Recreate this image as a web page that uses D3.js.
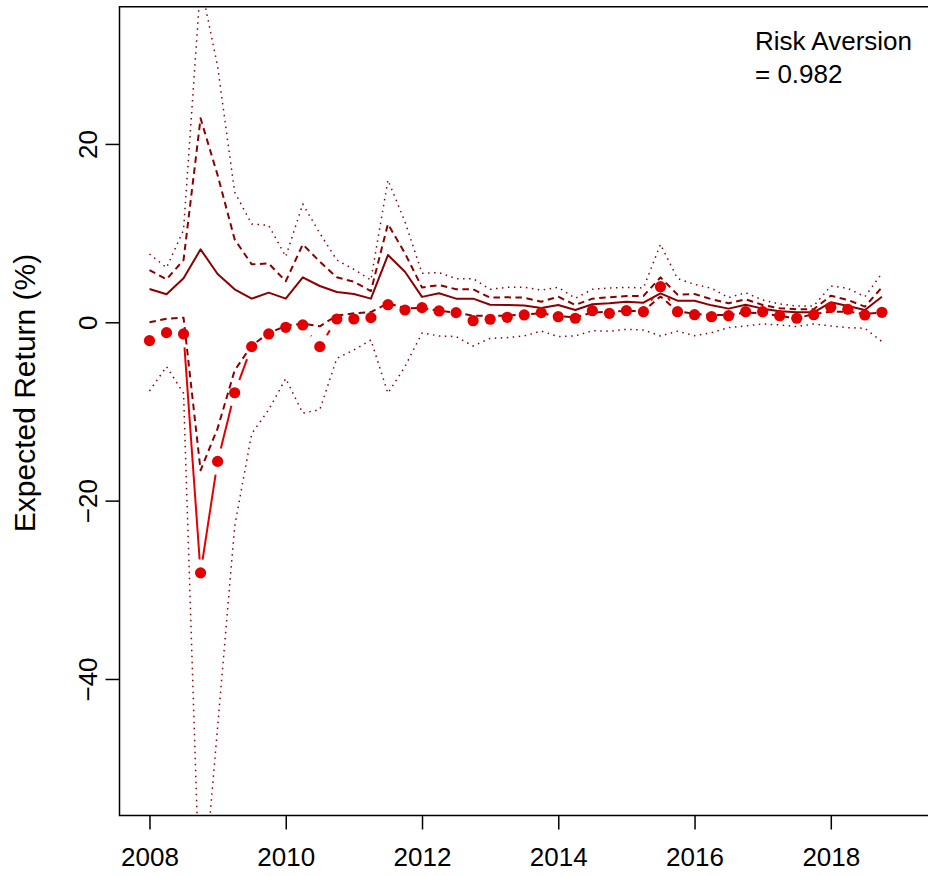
<!DOCTYPE html>
<html>
<head>
<meta charset="utf-8">
<script src="https://cdn.jsdelivr.net/npm/d3@7"></script>
<style>
  html, body { margin: 0; padding: 0; background: #fff; }
  svg text { font-family: "Liberation Sans", Arial, sans-serif; fill: #000; }
</style>
</head>
<body>
<svg id="chart" width="928" height="876"></svg>
<script>
// ---- data (quarterly, 2008 Q1 .. 2018 Q4) ----
const startYear = 2008;
const nQuarters = 44;
const quarters = d3.range(nQuarters).map(i => startYear + i / 4);

const centerLine = [3.73, 3.14, 4.93, 8.18, 5.41, 3.70, 2.65, 3.32, 2.65, 5.04, 4.07, 3.40, 3.17, 2.65, 7.54, 5.67,
  2.85, 3.25, 2.65, 2.65, 1.97, 1.94, 1.87, 1.60, 1.94, 1.38, 2.02, 2.13, 2.31, 2.20, 3.25, 2.42,
  2.42, 1.90, 1.53, 1.97, 1.53, 1.23, 1.12, 1.12, 2.24, 1.83, 1.38, 2.87];

const upperDashed = [5.86, 4.82, 6.98, 22.87, 16.5, 9.3, 6.5, 6.6, 4.6, 8.74, 6.8, 5.04, 4.55, 3.5, 11.02, 7.74,
  3.9, 4.18, 3.7, 3.7, 2.76, 2.8, 2.76, 2.31, 2.87, 1.94, 2.65, 2.8, 2.95, 2.95, 5.04, 3.1,
  3.17, 2.58, 2.13, 2.58, 1.94, 1.57, 1.46, 1.46, 2.98, 2.5, 1.75, 3.92];

const lowerDashed = [0.0, 0.4, 0.52, -16.6, -11.9, -5.4, -2.6, -1.23, -0.4, -0.15, -0.45, 0.75, 1.0, 1.15, 2.13, 1.57,
  1.6, 1.3, 1.08, 0.74, 0.74, 0.74, 0.9, 1.0, 0.7, 0.56, 1.08, 1.19, 1.27, 1.27, 2.9, 1.25,
  0.93, 0.82, 0.82, 1.08, 1.0, 0.7, 0.45, 0.93, 1.19, 1.19, 0.93, 1.08];

const upperDotted = [7.66, 6.12, 10.35, 38.0, 28.7, 14.6, 11.02, 10.87, 7.36, 13.26, 9.98, 6.98, 5.94, 4.74, 15.95, 11.28,
  5.5, 5.56, 4.89, 4.89, 3.7, 3.92, 3.92, 3.62, 3.92, 2.69, 3.7, 3.85, 3.92, 3.85, 8.74, 4.9,
  4.26, 3.81, 2.76, 3.32, 2.5, 2.05, 1.83, 1.83, 4.07, 3.81, 2.87, 5.49];

const lowerDotted = [-7.7, -4.97, -7.96, -67.7, -45.4, -22.9, -12.5, -9.8, -6.3, -10.2, -9.8, -4.04, -3.1, -1.98, -7.96, -4.97,
  -1.2, -1.53, -1.6, -2.66, -1.8, -1.72, -1.53, -0.98, -1.6, -1.53, -0.94, -1.0, -0.79, -0.86, -1.53, -1.0,
  -1.5, -1.16, -0.6, -0.41, -0.19, -0.3, -0.49, -0.19, -0.41, -0.6, -0.67, -2.17];

const observed = [-2.06, -1.16, -1.31, -28.1, -15.6, -7.9, -2.73, -1.31, -0.56, -0.3, -2.73, 0.37, 0.37, 0.52, 1.97, 1.38,
  1.64, 1.27, 1.08, 0.18, 0.34, 0.56, 0.82, 1.08, 0.63, 0.45, 1.3, 1.0, 1.3, 1.19, 3.99, 1.19,
  0.85, 0.63, 0.74, 1.19, 1.19, 0.74, 0.45, 0.85, 1.68, 1.46, 0.82, 1.12];

const xTicks = [2008, 2010, 2012, 2014, 2016, 2018];
const yTicks = [-40, -20, 0, 20];
const yLabel = "Expected Return (%)";
const legendLines = ["Risk Aversion", "= 0.982"];

// ---- layout ----
const plot = { left: 119.5, right: 933, top: 6.7, bottom: 815.5 };
const xDomain = [2007.56, 2019.5];
const yDomain = [-55.31, 35.39];

const x = d3.scaleLinear().domain(xDomain).range([plot.left, plot.right]);
const y = d3.scaleLinear().domain(yDomain).range([plot.bottom, plot.top]);

const svg = d3.select("#chart");
const darkRed = "#8B0000";
const red = "#E30000";
const fontSize = 26;

svg.append("defs").append("clipPath").attr("id", "plotClip")
  .append("rect")
  .attr("x", plot.left).attr("y", plot.top)
  .attr("width", plot.right - plot.left).attr("height", plot.bottom - plot.top);

const g = svg.append("g").attr("clip-path", "url(#plotClip)");

const line = d3.line().x((d, i) => x(quarters[i])).y(d => y(d));

function drawSeries(values, width, dash) {
  g.append("path")
    .datum(values)
    .attr("d", line)
    .attr("fill", "none")
    .attr("stroke", darkRed)
    .attr("stroke-width", width)
    .attr("stroke-linejoin", "round")
    .attr("stroke-dasharray", dash);
}

drawSeries(upperDotted, 1.5, "1.5,4.5");
drawSeries(lowerDotted, 1.5, "1.5,4.5");
drawSeries(upperDashed, 2, "6.5,4.5");
drawSeries(lowerDashed, 2, "6.5,4.5");
drawSeries(centerLine, 2, null);

// observed: R type = "b" (points, with lines broken around each point)
const gap = 13.4;
const pts = observed.map((v, i) => [x(quarters[i]), y(v)]);
const segs = [];
for (let i = 0; i < pts.length - 1; i++) {
  const [x0, y0] = pts[i], [x1, y1] = pts[i + 1];
  const dx = x1 - x0, dy = y1 - y0, L = Math.hypot(dx, dy);
  if (L > 2 * gap) {
    const ux = dx / L, uy = dy / L;
    segs.push([x0 + ux * gap, y0 + uy * gap, x1 - ux * gap, y1 - uy * gap]);
  }
}
g.selectAll("line.obs").data(segs).enter().append("line")
  .attr("class", "obs")
  .attr("x1", d => d[0]).attr("y1", d => d[1])
  .attr("x2", d => d[2]).attr("y2", d => d[3])
  .attr("stroke", red).attr("stroke-width", 2);

g.selectAll("circle.obs").data(observed).enter().append("circle")
  .attr("class", "obs")
  .attr("cx", (d, i) => x(quarters[i]))
  .attr("cy", d => y(d))
  .attr("r", 5.6)
  .attr("fill", red);

// ---- box (left, top, bottom; right edge is outside the picture) ----
svg.append("path")
  .attr("d", `M${plot.right},${plot.top}H${plot.left}V${plot.bottom}H${plot.right}`)
  .attr("fill", "none").attr("stroke", "#000").attr("stroke-width", 1.5);

// ---- axes ----
const xAxis = d3.axisBottom(x).tickValues(xTicks).tickFormat(d3.format("d")).tickSize(14).tickPadding(17);
const gx = svg.append("g").attr("transform", `translate(0,${plot.bottom})`).call(xAxis);
gx.select(".domain").remove();
gx.selectAll(".tick line").attr("stroke", "#000").attr("stroke-width", 1.5);
gx.selectAll(".tick text").attr("font-size", fontSize).attr("font-family", "Liberation Sans, Arial, sans-serif")
  .attr("dy", null).attr("y", 50.5);

const yAxis = d3.axisLeft(y).tickValues(yTicks).tickFormat(d => d < 0 ? "\u2212" + Math.abs(d) : String(d)).tickSize(14);
const gy = svg.append("g").attr("transform", `translate(${plot.left},0)`).call(yAxis);
gy.select(".domain").remove();
gy.selectAll(".tick line").attr("stroke", "#000").attr("stroke-width", 1.5);
gy.selectAll(".tick text")
  .attr("font-size", fontSize).attr("font-family", "Liberation Sans, Arial, sans-serif")
  .attr("x", null).attr("dy", null)
  .attr("text-anchor", "middle")
  .attr("transform", "translate(-23,0) rotate(-90)");

// ---- y label ----
svg.append("text")
  .attr("transform", `translate(35,393) rotate(-90)`)
  .attr("text-anchor", "middle")
  .attr("font-size", 30)
  .text(yLabel);

// ---- legend text ----
svg.append("g").selectAll("text").data(legendLines).enter().append("text")
  .attr("x", 755)
  .attr("y", (d, i) => 50 + i * 33)
  .attr("font-size", fontSize)
  .text(d => d);
</script>
</body>
</html>
